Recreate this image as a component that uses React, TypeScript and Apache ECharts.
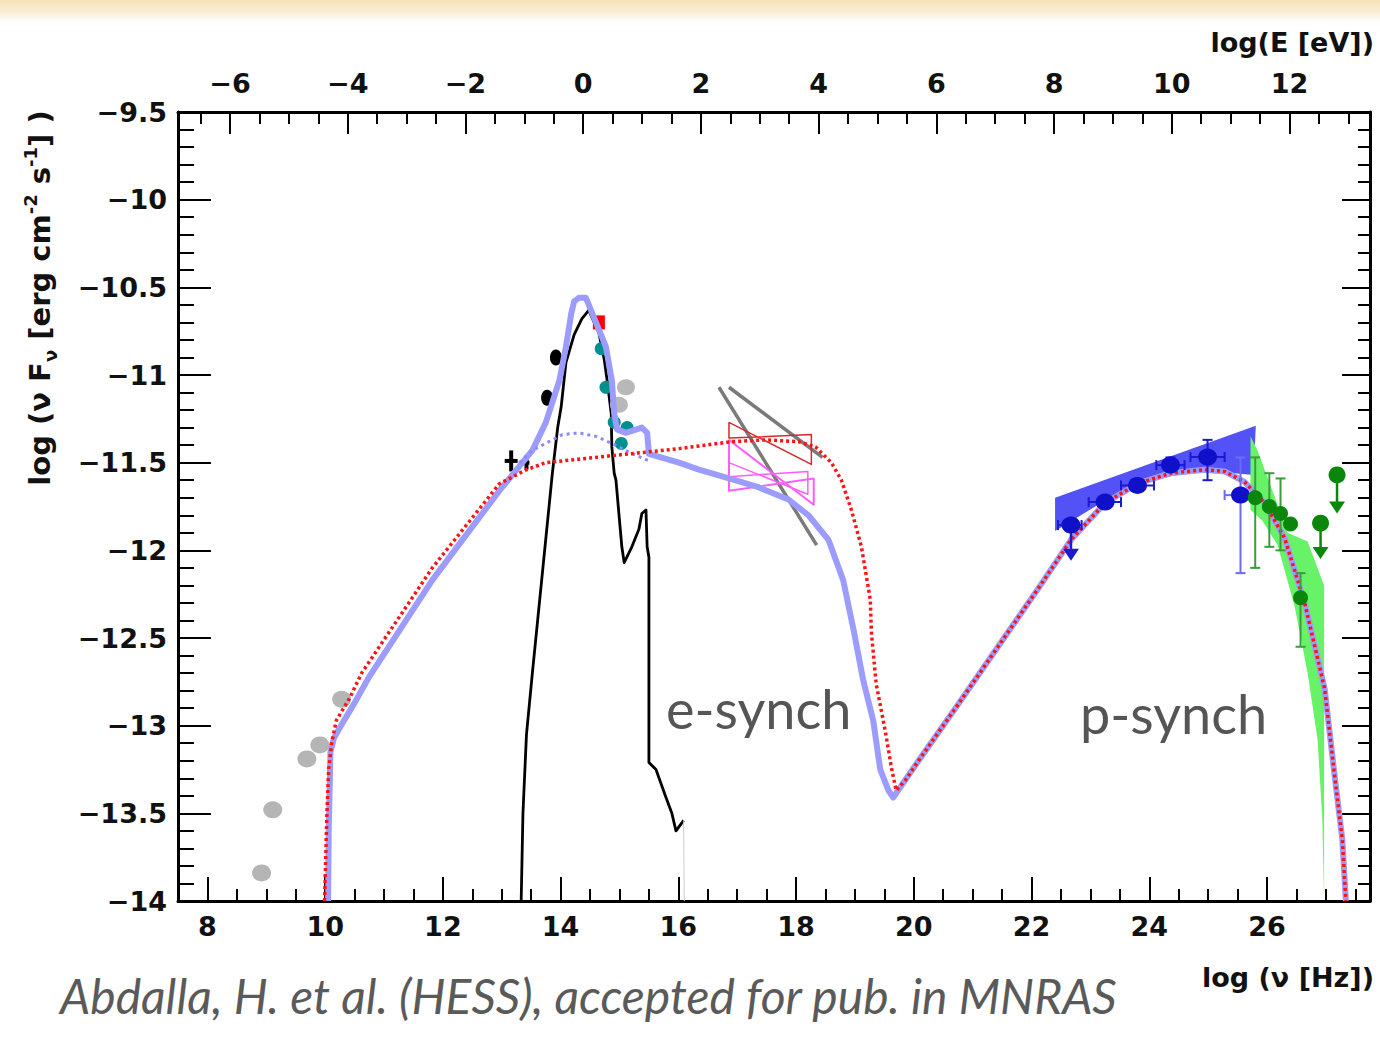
import React, { useEffect, useRef } from "react";
import * as echarts from "echarts";

// ---------- axes ----------
const X_MIN = 7.5;
const X_MAX = 27.75;
const Y_MIN = -14;
const Y_MAX = -9.5;
const LOG_H_EV = -14.383; // log10(h [eV s]) : log E = log nu + LOG_H_EV

// ---------- model curves (log nu [Hz], log nuFnu) ----------
const modelTotal: number[][] = [
  [10.05, -14.0], [10.06, -13.6], [10.09, -13.15], [10.15, -13.07], [10.25, -13.01],
  [10.5, -12.87], [10.75, -12.72], [11.82, -12.17], [12.96, -11.66], [13.52, -11.43],
  [13.75, -11.27], [13.98, -11.03], [14.09, -10.84], [14.18, -10.65], [14.23, -10.58],
  [14.31, -10.56], [14.43, -10.56], [14.6, -10.7], [14.77, -10.84], [14.87, -11.03],
  [14.91, -11.22], [14.96, -11.31], [15.11, -11.33], [15.38, -11.3], [15.47, -11.33],
  [15.5, -11.45], [16.01, -11.5], [16.35, -11.54], [16.86, -11.59], [17.36, -11.64],
  [17.87, -11.71], [18.21, -11.8], [18.55, -11.94], [18.8, -12.17], [18.98, -12.46],
  [19.14, -12.74], [19.31, -12.97], [19.43, -13.25], [19.57, -13.37], [19.65, -13.41],
  [20.08, -13.2], [20.75, -12.88], [21.43, -12.55], [22.11, -12.22], [22.67, -11.94],
  [23.25, -11.73], [23.8, -11.62], [24.36, -11.56], [24.94, -11.54], [25.28, -11.55],
  [25.62, -11.61], [25.96, -11.73], [26.3, -11.93], [26.64, -12.3], [26.98, -12.79],
  [27.14, -13.26], [27.28, -13.65], [27.34, -14.0],
];

const modelAlt: number[][] = [
  [9.99, -14.0], [10.01, -13.75], [10.03, -13.5], [10.06, -13.25], [10.11, -13.1],
  [10.19, -12.97], [10.42, -12.84], [10.62, -12.7], [11.82, -12.1], [12.96, -11.62],
  [13.42, -11.54], [13.75, -11.5], [14.31, -11.48], [14.87, -11.46], [15.45, -11.44],
  [16.01, -11.42], [16.91, -11.38], [17.48, -11.37], [18.04, -11.38], [18.33, -11.41],
  [18.6, -11.5], [18.77, -11.6], [18.94, -11.77], [19.11, -11.98], [19.26, -12.28],
  [19.28, -12.47], [19.36, -12.76], [19.52, -13.04], [19.62, -13.24], [19.7, -13.37],
  [19.86, -13.31], [20.08, -13.2], [20.75, -12.88], [21.43, -12.55], [22.11, -12.22],
  [22.67, -11.94], [23.25, -11.73], [23.8, -11.62], [24.36, -11.56], [24.94, -11.54],
  [25.28, -11.55], [25.62, -11.61], [25.96, -11.73], [26.3, -11.93], [26.64, -12.3],
  [26.98, -12.79], [27.14, -13.26], [27.28, -13.65], [27.34, -14.0],
];

const modelSynchOnly: number[][] = [
  [13.3, -11.5], [13.52, -11.43], [14.03, -11.34], [14.31, -11.33], [14.6, -11.35],
  [14.87, -11.39], [15.16, -11.44], [15.5, -11.49],
];

const hostGalaxy: number[][] = [
  [13.33, -14.0], [13.36, -13.5], [13.42, -13.05], [13.52, -12.7], [13.69, -12.13],
  [13.86, -11.56], [13.95, -11.3], [14.01, -11.18], [14.09, -10.93], [14.23, -10.77],
  [14.36, -10.68], [14.48, -10.63], [14.53, -10.67], [14.65, -10.76], [14.74, -10.91],
  [14.79, -11.03], [14.86, -11.22], [14.87, -11.41], [14.91, -11.56], [14.94, -11.6],
  [14.99, -11.79], [15.04, -11.98], [15.08, -12.07], [15.21, -11.98], [15.33, -11.88],
  [15.38, -11.79], [15.45, -11.77], [15.47, -11.98], [15.5, -12.04], [15.5, -13.21],
  [15.62, -13.25], [15.79, -13.41], [15.89, -13.5], [15.96, -13.6], [16.09, -13.54],
];
const hostTail: number[][] = [[16.09, -13.54], [16.1, -14.0]];

// ---------- data points ----------
const radioGray: number[][] = [
  [8.92, -13.84], [9.11, -13.48], [9.69, -13.19], [9.91, -13.11], [10.28, -12.85],
];
const opticalGray: number[][] = [[15.11, -11.07], [14.99, -11.17]];
const opticalBlack: number[][] = [[13.77, -11.13], [13.92, -10.9]];
const uvTeal: number[][] = [
  [14.69, -10.85], [14.77, -11.07], [14.91, -11.27], [15.13, -11.3], [15.03, -11.39],
];
const uvRed: number[][] = [[14.65, -10.7]];
// [x, y, xlo, xhi, ylo, yhi]
const irCrosses: number[][] = [
  [13.16, -11.49, 13.05, 13.27, -11.55, -11.43],
  [13.42, -11.5, 13.37, 13.47, -11.54, -11.46],
];

// X-ray bowties
const xrayGrayA: number[][] = [[16.69, -11.07], [18.35, -11.97]];
const xrayGrayB: number[][] = [[16.86, -11.07], [18.45, -11.47]];
const xrayRedBowtie: number[][] = [
  [16.86, -11.27], [18.26, -11.51], [18.26, -11.34], [16.86, -11.36], [16.86, -11.27],
];
const xrayMagentaBowtie: number[][] = [
  [16.86, -11.37], [18.3, -11.74], [18.3, -11.59], [16.86, -11.66], [16.86, -11.37],
];
const xrayMagentaBowtie2: number[][] = [
  [16.86, -11.5], [18.2, -11.68], [18.2, -11.55], [16.86, -11.58], [16.86, -11.5],
];

// Fermi-LAT
const fermiBand: number[][] = [
  [22.4, -11.7], [25.81, -11.29], [25.77, -11.57], [24.82, -11.54], [23.97, -11.61],
  [23.13, -11.74], [22.4, -11.89],
];
const fermiPoints: number[][] = [
  [22.67, -11.856, 22.45, 22.85, -11.856, -11.856],
  [23.25, -11.725, 22.97, 23.52, -11.725, -11.725],
  [23.8, -11.63, 23.52, 24.08, -11.63, -11.63],
  [24.36, -11.514, 24.12, 24.6, -11.55, -11.47],
  [24.99, -11.468, 24.7, 25.28, -11.6, -11.37],
];
const fermiWeakPoint: number[][] = [[25.55, -11.685, 25.28, 25.8, -12.13, -11.47]];
const fermiArrow: number[][] = [[22.67, -11.86, -12.06]];

// H.E.S.S.
const hessBand: number[][] = [
  [25.72, -11.35], [25.84, -11.43], [26.18, -11.74], [26.35, -11.9], [26.69, -11.95],
  [26.97, -12.2], [26.97, -14.0], [26.94, -13.54], [26.86, -13.08], [26.69, -12.7],
  [26.47, -12.32], [26.18, -11.97], [25.92, -11.83], [25.72, -11.77],
];
const hessPoints: number[][] = [
  [25.8, -11.7, 25.8, 25.8, -12.1, -11.47],
  [26.04, -11.75, 26.04, 26.04, -11.98, -11.56],
  [26.23, -11.79, 26.23, 26.23, -12.0, -11.59],
  [26.4, -11.85, 26.4, 26.4, -11.85, -11.85],
  [26.57, -12.27, 26.57, 26.57, -12.55, -12.13],
];
const hessUpperLimits: number[][] = [[27.19, -11.57, -11.79], [26.91, -11.845, -12.05]];

// ---------- labels ----------
const captionText = "Abdalla, H. et al. (HESS), accepted for pub. in MNRAS";
const xAxisTitle = "log (\u03bd [Hz])";
const topAxisTitle = "log(E [eV])";

const fmtNum = (v: number) => {
  const s = String(Math.round(v * 100) / 100);
  return s.replace("-", "\u2212");
};

function polygonSeries(points: number[][], fill: string, z: number) {
  return {
    type: "custom",
    silent: true,
    clip: true,
    z,
    data: [points[0]],
    renderItem: (_p: any, api: any) => ({
      type: "polygon",
      shape: { points: points.map((p) => api.coord(p)) },
      style: { fill, stroke: "none" },
    }),
  };
}

function errorBarSeries(data: number[][], color: string, width: number, cap: number, z: number) {
  return {
    type: "custom",
    silent: true,
    z,
    dimensions: ["x", "y", "xlo", "xhi", "ylo", "yhi"],
    encode: { x: 0, y: 1 },
    data,
    renderItem: (_p: any, api: any) => {
      const x = api.value(0), y = api.value(1);
      const xlo = api.value(2), xhi = api.value(3), ylo = api.value(4), yhi = api.value(5);
      const children: any[] = [];
      const st = { stroke: color, lineWidth: width };
      if (xhi > xlo) {
        const a = api.coord([xlo, y]), b = api.coord([xhi, y]);
        children.push({ type: "line", shape: { x1: a[0], y1: a[1], x2: b[0], y2: b[1] }, style: st });
        children.push({ type: "line", shape: { x1: a[0], y1: a[1] - cap, x2: a[0], y2: a[1] + cap }, style: st });
        children.push({ type: "line", shape: { x1: b[0], y1: b[1] - cap, x2: b[0], y2: b[1] + cap }, style: st });
      }
      if (yhi > ylo) {
        const a = api.coord([x, ylo]), b = api.coord([x, yhi]);
        children.push({ type: "line", shape: { x1: a[0], y1: a[1], x2: b[0], y2: b[1] }, style: st });
        children.push({ type: "line", shape: { x1: a[0] - cap, y1: a[1], x2: a[0] + cap, y2: a[1] }, style: st });
        children.push({ type: "line", shape: { x1: b[0] - cap, y1: b[1], x2: b[0] + cap, y2: b[1] }, style: st });
      }
      return { type: "group", children };
    },
  };
}

function arrowSeries(data: number[][], color: string, z: number) {
  return {
    type: "custom",
    silent: true,
    z,
    dimensions: ["x", "y", "ytip"],
    encode: { x: 0, y: 1 },
    data,
    renderItem: (_p: any, api: any) => {
      const x = api.value(0), y = api.value(1), yt = api.value(2);
      const a = api.coord([x, y]), b = api.coord([x, yt]);
      return {
        type: "group",
        children: [
          { type: "line", shape: { x1: a[0], y1: a[1], x2: b[0], y2: b[1] - 10 }, style: { stroke: color, lineWidth: 2.5 } },
          {
            type: "polygon",
            shape: { points: [[b[0] - 8, b[1] - 12], [b[0] + 8, b[1] - 12], [b[0], b[1]]] },
            style: { fill: color },
          },
        ],
      };
    },
  };
}

function lineSeries(data: number[][], color: string, width: number, type: any, z: number, opacity = 1) {
  return {
    type: "line",
    data,
    showSymbol: false,
    symbol: "none",
    silent: true,
    z,
    clip: true,
    lineStyle: { color, width, type, opacity, cap: "butt", join: "round" },
  };
}

function scatterSeries(data: number[][], color: string, size: any, z: number, symbol = "circle") {
  return {
    type: "scatter",
    data,
    symbol,
    symbolSize: size,
    silent: true,
    z,
    itemStyle: { color, opacity: 1 },
  };
}

const LABEL_FONT = "DejaVu Sans, Liberation Sans, sans-serif";
const ANNOT_FONT = "Lato, Open Sans, sans-serif";

export default function App() {
  const ref = useRef<HTMLDivElement>(null);
  useEffect(() => {
    if (!ref.current) return;
    const chart = echarts.init(ref.current, undefined, { renderer: "svg" });
    const axisLabelStyle = {
      fontFamily: LABEL_FONT,
      fontSize: 27,
      fontWeight: "bold" as const,
      color: "#111",
    };
    const option: any = {
      animation: false,
      backgroundColor: "#ffffff",
      grid: { left: 178, top: 112, width: 1192, height: 789, containLabel: false, outerBoundsMode: "none" },
      xAxis: [
        {
          type: "value",
          position: "bottom",
          min: X_MIN,
          max: X_MAX,
          minInterval: 2,
          maxInterval: 2,
          splitLine: { show: false },
          axisLine: { show: true, onZero: false, lineStyle: { color: "#000", width: 3 } },
          axisTick: { show: true, inside: true, length: 24, lineStyle: { color: "#000", width: 2 } },
          minorTick: { show: true, splitNumber: 4, length: 12, lineStyle: { color: "#000", width: 2 } },
          axisLabel: { ...axisLabelStyle, margin: 12, showMinLabel: false, showMaxLabel: false, formatter: fmtNum },
        },
        {
          type: "value",
          position: "top",
          min: X_MIN + LOG_H_EV,
          max: X_MAX + LOG_H_EV,
          minInterval: 2,
          maxInterval: 2,
          splitLine: { show: false },
          axisLine: { show: true, onZero: false, lineStyle: { color: "#000", width: 3 } },
          axisTick: { show: true, inside: true, length: 22, lineStyle: { color: "#000", width: 2 } },
          minorTick: { show: true, splitNumber: 4, length: 12, lineStyle: { color: "#000", width: 2 } },
          axisLabel: { ...axisLabelStyle, margin: 15, showMinLabel: false, showMaxLabel: false, formatter: fmtNum },
        },
      ],
      yAxis: [
        {
          type: "value",
          position: "left",
          min: Y_MIN,
          max: Y_MAX,
          interval: 0.5,
          splitLine: { show: false },
          axisLine: { show: true, onZero: false, lineStyle: { color: "#000", width: 3 } },
          axisTick: { show: true, inside: true, length: 33, lineStyle: { color: "#000", width: 2 } },
          minorTick: { show: true, splitNumber: 5, length: 16, lineStyle: { color: "#000", width: 2 } },
          axisLabel: { ...axisLabelStyle, margin: 11, formatter: fmtNum },
        },
        {
          type: "value",
          position: "right",
          min: Y_MIN,
          max: Y_MAX,
          interval: 0.5,
          splitLine: { show: false },
          axisLine: { show: true, onZero: false, lineStyle: { color: "#000", width: 3 } },
          axisTick: { show: true, inside: true, length: 28, lineStyle: { color: "#000", width: 2 } },
          minorTick: { show: true, splitNumber: 5, length: 12, lineStyle: { color: "#000", width: 2 } },
          axisLabel: { show: false },
        },
      ],
      series: [
        polygonSeries(fermiBand, "#5252f7", 2),
        polygonSeries(hessBand, "#68f268", 2),
        lineSeries(hostGalaxy, "#000000", 2.8, "solid", 3),
        lineSeries(hostTail, "#cccccc", 1, "solid", 3),
        lineSeries(xrayGrayA, "#7a7a7a", 3.5, "solid", 3),
        lineSeries(xrayGrayB, "#7a7a7a", 3.5, "solid", 3),
        lineSeries(xrayRedBowtie, "#d42a2a", 1.5, "solid", 3),
        lineSeries(xrayMagentaBowtie, "#ff5cff", 2, "solid", 3),
        lineSeries(xrayMagentaBowtie2, "#ff5cff", 1.5, "solid", 3),
        scatterSeries(radioGray, "#b5b5b5", [19, 17], 4),
        scatterSeries(opticalGray, "#b8b8b8", [18, 16], 4),
        scatterSeries(opticalBlack, "#000000", [12, 16], 4),
        errorBarSeries(irCrosses, "#000000", 4, 0, 4),
        scatterSeries(uvTeal, "#008f8f", [13, 13], 4),
        scatterSeries(uvRed, "#ff0000", [12, 14], 4, "rect"),
        lineSeries(modelTotal, "#9c9cff", 6, "solid", 5),
        lineSeries(modelSynchOnly, "#8a8aff", 3, [3, 4], 5),
        lineSeries(modelAlt, "#ff1414", 3.5, [3, 3], 6),
        errorBarSeries(fermiPoints, "#1a1ad0", 2, 5, 7),
        errorBarSeries(fermiWeakPoint, "#6b6bf5", 2, 5, 7),
        arrowSeries(fermiArrow, "#1a1ad0", 7),
        scatterSeries(fermiPoints.map((p) => [p[0], p[1]]), "#1010c8", [19, 17], 8),
        scatterSeries(fermiWeakPoint.map((p) => [p[0], p[1]]), "#1010c8", [19, 17], 8),
        errorBarSeries(hessPoints, "#3c9c3c", 2, 5, 7),
        arrowSeries(hessUpperLimits, "#0a870a", 7),
        scatterSeries(hessPoints.map((p) => [p[0], p[1]]), "#0a870a", [15, 15], 8),
        scatterSeries(hessUpperLimits.map((p) => [p[0], p[1]]), "#0a870a", [17, 17], 8),
      ],
      graphic: [
        {
          type: "rect",
          silent: true,
          z: -10,
          shape: { x: 0, y: 0, width: 1380, height: 22 },
          style: {
            fill: new echarts.graphic.LinearGradient(0, 0, 0, 1, [
              { offset: 0, color: "#f6e3b6" },
              { offset: 0.55, color: "#f9eed5" },
              { offset: 1, color: "#ffffff" },
            ]),
          },
        },
        {
          type: "text",
          x: 40,
          y: 298,
          rotation: Math.PI / 2,
          silent: true,
          style: {
            text: "{n|log (\u03bd F}{sub|\u03bd}{n| [erg cm}{sup|-2}{n| s}{sup|-1}{n|] )}",
            align: "center",
            verticalAlign: "middle",
            fill: "#111",
            rich: {
              n: { fontFamily: LABEL_FONT, fontSize: 29, fontWeight: "bold", lineHeight: 38, fill: "#111" },
              sup: { fontFamily: LABEL_FONT, fontSize: 18, fontWeight: "bold", lineHeight: 38, verticalAlign: "top", fill: "#111" },
              sub: { fontFamily: LABEL_FONT, fontSize: 18, fontWeight: "bold", lineHeight: 38, verticalAlign: "bottom", fill: "#111" },
            },
          },
        },
        {
          type: "text",
          x: 1374,
          y: 42,
          silent: true,
          style: { text: topAxisTitle, align: "right", verticalAlign: "middle", fontFamily: LABEL_FONT, fontSize: 27, fontWeight: "bold", fill: "#111" },
        },
        {
          type: "text",
          x: 1374,
          y: 977,
          silent: true,
          style: { text: xAxisTitle, align: "right", verticalAlign: "middle", fontFamily: LABEL_FONT, fontSize: 27, fontWeight: "bold", fill: "#111" },
        },
        {
          type: "text",
          x: 666,
          y: 708,
          silent: true,
          style: { text: "e-synch", align: "left", verticalAlign: "middle", fontFamily: ANNOT_FONT, fontSize: 54, fill: "#555555" },
        },
        {
          type: "text",
          x: 1080,
          y: 713,
          silent: true,
          style: { text: "p-synch", align: "left", verticalAlign: "middle", fontFamily: ANNOT_FONT, fontSize: 54, fill: "#555555" },
        },
        {
          type: "text",
          x: 60,
          y: 995,
          silent: true,
          style: { text: captionText, align: "left", verticalAlign: "middle", fontFamily: ANNOT_FONT, fontStyle: "italic", fontSize: 48, fill: "#5a5a5a" },
        },
      ],
    };
    chart.setOption(option);
    return () => chart.dispose();
  }, []);
  return (
    <div
      ref={ref}
      style={{ position: "absolute", left: 0, top: 0, width: 1380, height: 1040, background: "#fff" }}
    />
  );
}
